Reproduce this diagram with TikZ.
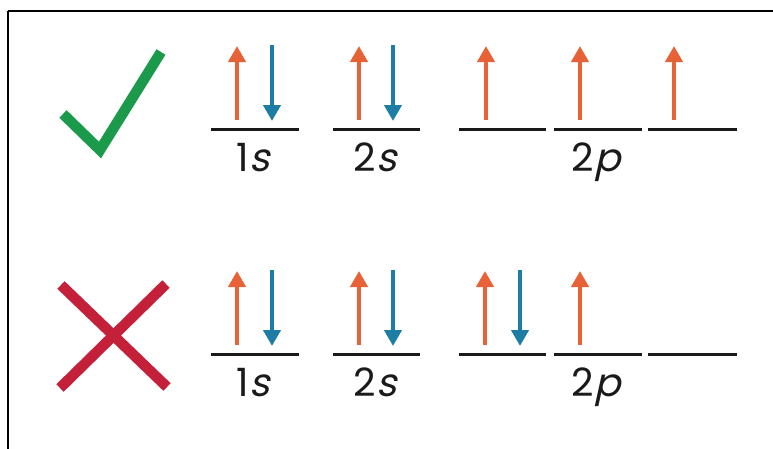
\documentclass[tikz,border=0pt]{standalone}
\usepackage{fontspec}
\setmainfont{Poppins}
\newfontfamily\slfont{Poppins}[FakeSlant=0.22]
\usetikzlibrary{arrows.meta}
\definecolor{upcol}{HTML}{E86238}
\definecolor{downcol}{HTML}{1E7DA5}
\definecolor{okgreen}{HTML}{1A9A4A}
\definecolor{badred}{HTML}{C4203A}
\definecolor{levelcol}{HTML}{1A1A1A}
\newcommand{\orb}[2]{#1{\slfont #2}}
\tikzset{
  spinup/.style={draw=upcol, line width=4.5pt, -{Triangle[width=17pt,length=16pt]}},
  spindown/.style={draw=downcol, line width=4.5pt, -{Triangle[width=17pt,length=16pt]}},
  levelline/.style={draw=levelcol, line width=3pt},
  orblabel/.style={anchor=base, inner sep=0pt, font=\fontsize{39}{39}\selectfont, text=levelcol},
  markline/.style={line width=10.5pt}
}
\begin{document}
\begin{tikzpicture}[x=1pt,y=-1pt]
\useasboundingbox (0,0) rectangle (773,448);
% frame (only left and top edges fall inside the picture)
\draw[line width=2pt, black] (7.5,10.5) -- (7.5,470) (7.5,10.5) -- (800,10.5);

% ---------- correct row ----------
\coordinate (ckA) at (63,114);
\coordinate (ckB) at (100,150);
\coordinate (ckC) at (161,52);
\draw[markline, okgreen, line join=miter] (ckA) -- (ckB) -- (ckC);

% levels
\coordinate (t1sL) at (211,129); \coordinate (t1sR) at (299,129);
\coordinate (t2sL) at (333,129); \coordinate (t2sR) at (420,129);
\coordinate (tpaL) at (459,129); \coordinate (tpaR) at (546,129);
\coordinate (tpbL) at (554,129); \coordinate (tpbR) at (642,129);
\coordinate (tpcL) at (648,129); \coordinate (tpcR) at (737,129);
\draw[levelline] (t1sL) -- (t1sR);
\draw[levelline] (t2sL) -- (t2sR);
\draw[levelline] (tpaL) -- (tpaR);
\draw[levelline] (tpbL) -- (tpbR);
\draw[levelline] (tpcL) -- (tpcR);

% spins
\coordinate (tu1a) at (237,120); \coordinate (tu1b) at (237,46);
\coordinate (td1a) at (272,45);  \coordinate (td1b) at (272,121);
\coordinate (tu2a) at (359,120); \coordinate (tu2b) at (359,46);
\coordinate (td2a) at (393,45);  \coordinate (td2b) at (393,121);
\coordinate (tu3a) at (486,120); \coordinate (tu3b) at (486,46);
\coordinate (tu4a) at (580,120); \coordinate (tu4b) at (580,46);
\coordinate (tu5a) at (674,120); \coordinate (tu5b) at (674,46);
\draw[spinup] (tu1a) -- (tu1b);
\draw[spindown] (td1a) -- (td1b);
\draw[spinup] (tu2a) -- (tu2b);
\draw[spindown] (td2a) -- (td2b);
\draw[spinup] (tu3a) -- (tu3b);
\draw[spinup] (tu4a) -- (tu4b);
\draw[spinup] (tu5a) -- (tu5b);

\node[orblabel] (tl1s) at (253,171) {\orb{1}{s}};
\node[orblabel] (tl2s) at (375,171) {\orb{2}{s}};
\node[orblabel] (tl2p) at (596,171) {\orb{2}{p}};

% ---------- wrong row ----------
\coordinate (xA) at (61,285);
\coordinate (xB) at (167,387);
\coordinate (xC) at (166,284);
\coordinate (xD) at (60,388);
\draw[markline, badred] (xA) -- (xB);
\draw[markline, badred] (xC) -- (xD);

\coordinate (b1sL) at (211,354); \coordinate (b1sR) at (299,354);
\coordinate (b2sL) at (333,354); \coordinate (b2sR) at (420,354);
\coordinate (bpaL) at (459,354); \coordinate (bpaR) at (546,354);
\coordinate (bpbL) at (554,354); \coordinate (bpbR) at (642,354);
\coordinate (bpcL) at (648,354); \coordinate (bpcR) at (737,354);
\draw[levelline] (b1sL) -- (b1sR);
\draw[levelline] (b2sL) -- (b2sR);
\draw[levelline] (bpaL) -- (bpaR);
\draw[levelline] (bpbL) -- (bpbR);
\draw[levelline] (bpcL) -- (bpcR);

\coordinate (bu1a) at (237,345); \coordinate (bu1b) at (237,271);
\coordinate (bd1a) at (272,270); \coordinate (bd1b) at (272,346);
\coordinate (bu2a) at (359,345); \coordinate (bu2b) at (359,271);
\coordinate (bd2a) at (393,270); \coordinate (bd2b) at (393,346);
\coordinate (bu3a) at (485,345); \coordinate (bu3b) at (485,271);
\coordinate (bd3a) at (520,270); \coordinate (bd3b) at (520,346);
\coordinate (bu4a) at (580,345); \coordinate (bu4b) at (580,271);
\draw[spinup] (bu1a) -- (bu1b);
\draw[spindown] (bd1a) -- (bd1b);
\draw[spinup] (bu2a) -- (bu2b);
\draw[spindown] (bd2a) -- (bd2b);
\draw[spinup] (bu3a) -- (bu3b);
\draw[spindown] (bd3a) -- (bd3b);
\draw[spinup] (bu4a) -- (bu4b);

\node[orblabel] (bl1s) at (253,396) {\orb{1}{s}};
\node[orblabel] (bl2s) at (375,396) {\orb{2}{s}};
\node[orblabel] (bl2p) at (596,396) {\orb{2}{p}};
\end{tikzpicture}
\end{document}
